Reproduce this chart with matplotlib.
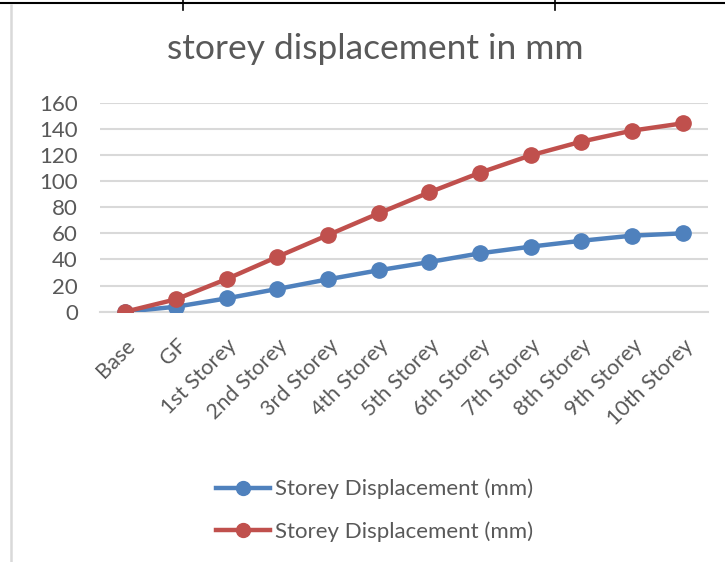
import matplotlib.pyplot as plt
from matplotlib.lines import Line2D

# storey labels and displacement values (mm)
storeys = ["Base", "GF", "1st Storey", "2nd Storey", "3rd Storey", "4th Storey",
           "5th Storey", "6th Storey", "7th Storey", "8th Storey", "9th Storey",
           "10th Storey"]
disp_blue = [0, 3.8, 10.2, 17.4, 24.8, 31.7, 38.0, 44.7, 49.8, 54.3, 58.2, 60.0]
disp_red = [0, 9.5, 25.0, 42.0, 58.7, 75.3, 91.4, 106.4, 119.7, 130.2, 138.6, 144.2]
yticks = [0, 20, 40, 60, 80, 100, 120, 140, 160]

W, H = 725, 562
txt = "#595959"
font = "Lato"

fig = plt.figure(figsize=(W / 100, H / 100), dpi=100)
fig.patch.set_facecolor("white")

# plot area in pixel coordinates
x0, x1 = 100, 708
ytop, ybot = 102.7, 311.7
ax = fig.add_axes([x0 / W, 1 - ybot / H, (x1 - x0) / W, (ybot - ytop) / H])

xs = list(range(len(storeys)))
ax.plot(xs, disp_blue, color="#4F81BD", lw=3.2, marker="o", ms=11,
        solid_capstyle="round", zorder=3)
ax.plot(xs, disp_red, color="#C0504D", lw=3.2, marker="o", ms=11,
        solid_capstyle="round", zorder=4)

ax.set_xlim(-0.5, len(storeys) - 0.5)
ax.set_ylim(0, 160)
ax.set_yticks(yticks)
ax.set_yticklabels([str(v) for v in yticks], fontsize=16, color=txt, family=font)
ax.set_xticks(xs)
ax.set_xticklabels(storeys, rotation=45, ha="right", rotation_mode="anchor",
                   fontsize=15.5, color=txt, family=font)
ax.tick_params(length=0)
ax.tick_params(axis="y", pad=16)
ax.tick_params(axis="x", pad=17)
ax.grid(axis="y", color="#D9D9D9", lw=1.5)
ax.set_axisbelow(True)
for s in ax.spines.values():
    s.set_visible(False)
ax.spines["bottom"].set_visible(True)
ax.spines["bottom"].set_color("#D9D9D9")
ax.spines["bottom"].set_linewidth(1.5)

fig.text(375 / W, 1 - 49 / H, "storey displacement in mm", ha="center",
         va="center", fontsize=25.5, color=txt, family=font)

# legend
handles = [
    Line2D([], [], color="#4F81BD", lw=3.2, marker="o", ms=10),
    Line2D([], [], color="#C0504D", lw=3.2, marker="o", ms=10),
]
fig.legend(handles, ["Storey Displacement (mm)", "Storey Displacement (mm)"],
           loc="center", bbox_to_anchor=(375 / W, 1 - 510.5 / H), frameon=False,
           prop={"family": font, "size": 16}, labelcolor=txt,
           handlelength=2.4, handletextpad=0.25, labelspacing=1.0)

# document table borders around the chart
fig.add_artist(Line2D([0, 1], [1 - 3 / H, 1 - 3 / H], color="black", lw=1.5))
for xv in (183, 555):
    fig.add_artist(Line2D([xv / W, xv / W], [1, 1 - 10 / H], color="black", lw=1.2))
fig.add_artist(Line2D([11 / W, 11 / W], [1 - 5 / H, 0], color="#D9D9D9", lw=1.8))

fig.savefig("out.png", dpi=100, facecolor="white")
